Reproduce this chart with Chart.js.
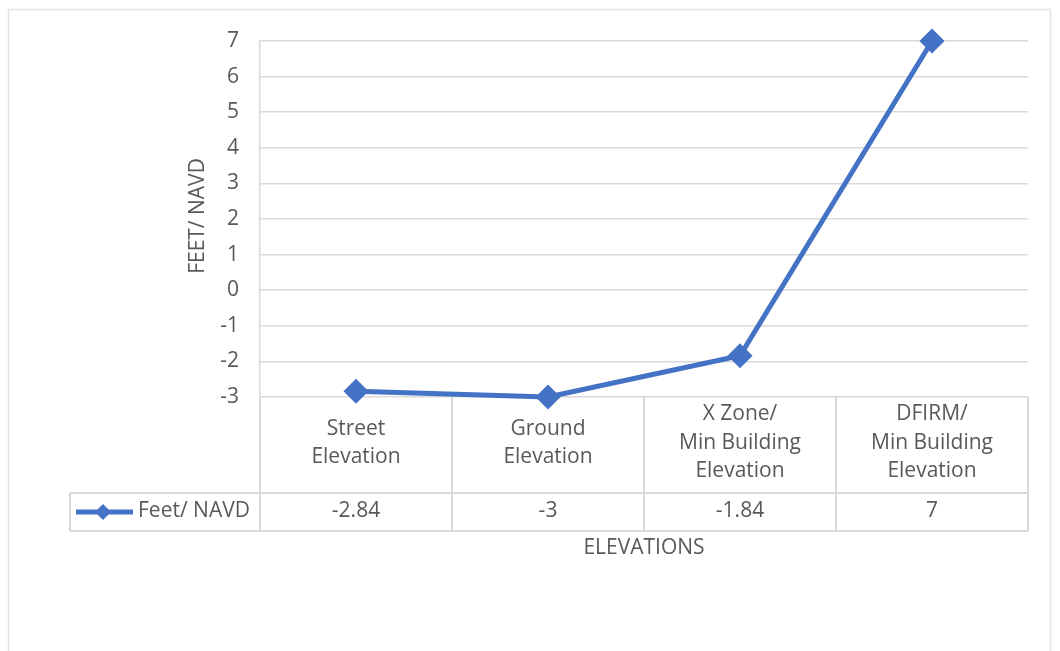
<!DOCTYPE html>
<html>
<head>
<meta charset="utf-8">
<script src="https://cdn.jsdelivr.net/npm/chart.js@4.4.1/dist/chart.umd.min.js"></script>
<style>
  html, body { margin: 0; padding: 0; background: #ffffff; }
  #wrap { position: relative; width: 1060px; height: 651px; }
</style>
</head>
<body>
<div id="wrap"><canvas id="chart" width="1060" height="651"></canvas></div>
<script>
// Elevation categories (each entry is the list of lines shown in the table header)
const categories = [
  ['Street', 'Elevation'],
  ['Ground', 'Elevation'],
  ['X Zone/', 'Min Building', 'Elevation'],
  ['DFIRM/', 'Min Building', 'Elevation']
];
// Elevations in feet (NAVD)
const feetNavd = [-2.84, -3, -1.84, 7];
// Text shown in the data table value row
const valueLabels = ['-2.84', '-3', '-1.84', '7'];
const seriesName = 'Feet/ NAVD';
const xTitle = 'ELEVATIONS';
const yTitle = 'FEET/ NAVD';
const yTicks = [-3, -2, -1, 0, 1, 2, 3, 4, 5, 6, 7];

const FONT = '"Open Sans", "Noto Sans", sans-serif';
const FSIZE = 21;
const TEXT = '#595959';
const GRID = '#d9d9d9';
const BLUE = '#4472C4';

// Draws the frame, y-axis title and the data table under the plot
const dataTablePlugin = {
  id: 'dataTable',
  afterDraw(chart) {
    const ctx = chart.ctx;
    const area = chart.chartArea;
    const xs = chart.scales.x;
    const n = categories.length;
    const colW = area.width / n;
    const row1Top = area.bottom;
    const row1Bottom = 493;
    const row2Bottom = 531;
    const keyLeft = 70;

    ctx.save();
    // outer chart frame
    ctx.strokeStyle = '#e3e3e3';
    ctx.lineWidth = 1.5;
    ctx.strokeRect(8.5, 9.5, 1042, 660);

    // table grid
    ctx.strokeStyle = GRID;
    ctx.lineWidth = 2;
    ctx.beginPath();
    for (let i = 0; i <= n; i++) {
      const x = area.left + i * colW;
      ctx.moveTo(x, row1Top);
      ctx.lineTo(x, row2Bottom);
    }
    ctx.moveTo(keyLeft, row1Bottom);
    ctx.lineTo(area.right, row1Bottom);
    ctx.moveTo(keyLeft, row2Bottom);
    ctx.lineTo(area.right, row2Bottom);
    ctx.moveTo(keyLeft, row1Bottom);
    ctx.lineTo(keyLeft, row2Bottom);
    ctx.stroke();

    // header and value text
    ctx.fillStyle = TEXT;
    ctx.font = FSIZE + 'px ' + FONT;
    ctx.textAlign = 'center';
    ctx.textBaseline = 'middle';
    const lh = 28.5;
    const headMid = 443;
    const valMid = 511;
    categories.forEach((lines, i) => {
      const cx = xs.getPixelForValue(i);
      const start = headMid - (lines.length - 1) * lh / 2;
      lines.forEach((t, k) => ctx.fillText(t, cx, start + k * lh));
      ctx.fillText(valueLabels[i], cx, valMid);
    });

    // legend key inside the table
    ctx.strokeStyle = BLUE;
    ctx.lineWidth = 5;
    ctx.beginPath();
    ctx.moveTo(76, valMid + 1);
    ctx.lineTo(133, valMid + 1);
    ctx.stroke();
    ctx.fillStyle = BLUE;
    ctx.beginPath();
    const kx = 103, ky = valMid + 1, r = 8;
    ctx.moveTo(kx, ky - r);
    ctx.lineTo(kx + r, ky);
    ctx.lineTo(kx, ky + r);
    ctx.lineTo(kx - r, ky);
    ctx.closePath();
    ctx.fill();
    ctx.fillStyle = TEXT;
    ctx.textAlign = 'left';
    ctx.fillText(seriesName, 138, valMid);

    // x title
    ctx.textAlign = 'center';
    ctx.fillText(xTitle, (area.left + area.right) / 2, 548);

    // y title
    ctx.translate(198, 216);
    ctx.rotate(-Math.PI / 2);
    ctx.fillText(yTitle, 0, 0);
    ctx.restore();
  }
};

new Chart(document.getElementById('chart'), {
  type: 'line',
  data: {
    labels: categories.map(c => c.join(' ')),
    datasets: [{
      label: seriesName,
      data: feetNavd,
      borderColor: BLUE,
      backgroundColor: BLUE,
      borderWidth: 5,
      pointStyle: 'rectRot',
      pointRadius: 9,
      pointHoverRadius: 9,
      tension: 0,
      clip: false
    }]
  },
  options: {
    responsive: false,
    animation: false,
    events: [],
    layout: { padding: { left: 60, right: 32, top: 41, bottom: 254 } },
    plugins: { legend: { display: false }, tooltip: { enabled: false } },
    scales: {
      x: {
        type: 'category',
        offset: true,
        display: false
      },
      y: {
        min: -3,
        max: 7,
        afterFit(scale) { scale.width = 200; },
        afterBuildTicks(scale) { scale.ticks = yTicks.map(v => ({ value: v })); },
        grid: { color: GRID, lineWidth: 1.5, drawTicks: false },
        border: { display: true, color: GRID, width: 1.5 },
        ticks: {
          padding: 21,
          color: TEXT,
          font: { family: FONT, size: FSIZE }
        }
      }
    }
  },
  plugins: [dataTablePlugin]
});
</script>
</body>
</html>
